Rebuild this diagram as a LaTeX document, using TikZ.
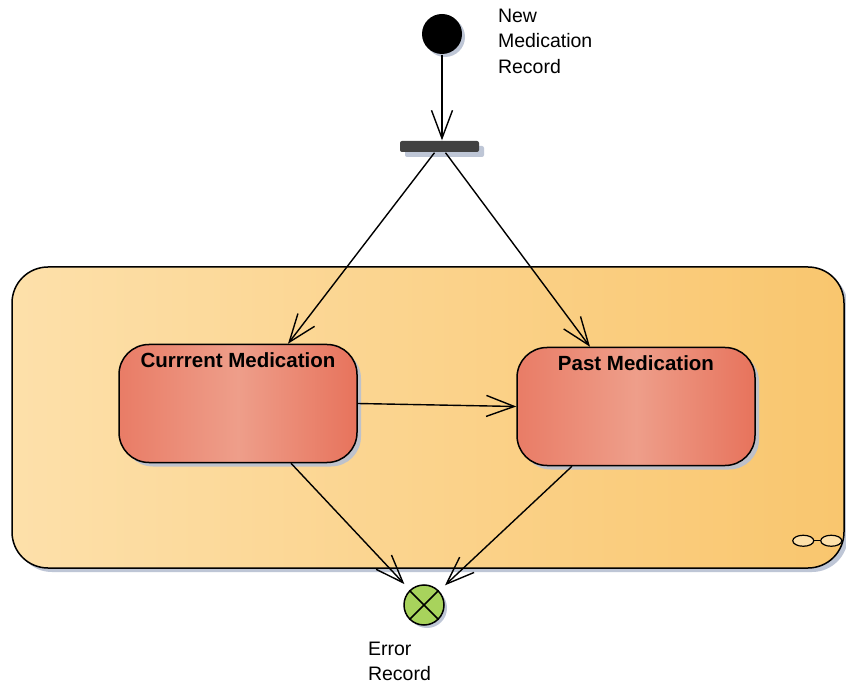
\documentclass[tikz,border=0pt]{standalone}
\usepackage{fontspec}
\setmainfont{Liberation Sans}
\usetikzlibrary{positioning,arrows.meta,shadows}

\definecolor{zoneleft}{HTML}{FDE0AA}
\definecolor{zoneright}{HTML}{F9C66E}
\definecolor{stateleft}{HTML}{E97C66}
\definecolor{statemid}{HTML}{EE9E8A}
\definecolor{stateright}{HTML}{E7735C}
\definecolor{finalgreen}{HTML}{A8D35C}
\definecolor{shadowblue}{HTML}{B8C0D2}
\definecolor{barfill}{HTML}{414141}

\begin{document}
\begin{tikzpicture}[
        x=1pt, y=-1pt,
        >={Straight Barb[length=28pt,width=21pt]},
        line width=1.4pt,
        tag/.style={align=left, anchor=north west, font=\fontsize{19.5}{25.5}\selectfont},
        statetag/.style={anchor=north, yshift=-5pt, font=\fontsize{20.5}{20.5}\selectfont\bfseries},
        shade/.style={drop shadow={shadow xshift=#1, shadow yshift=-#1, fill=shadowblue, opacity=0.9}},
        state/.style={draw, line width=1.5pt, rounded corners=30pt, minimum width=238pt, minimum height=118pt,
          left color=stateleft, right color=stateright, middle color=statemid, shade=4pt},
        zone/.style={draw, line width=1.5pt, rounded corners=36pt, minimum width=832pt, minimum height=301pt,
          left color=zoneleft, right color=zoneright, shade=4pt},
        point/.style={circle, inner sep=0pt, minimum size=40pt}
      ]
      \useasboundingbox[fill=white] (0,0) rectangle (846,684);

      \node (medzone) [zone] at (428,417.5) {};
      % link icon of the zone
      \draw[line width=1.2pt, fill=zoneleft] ([shift={(-41.5,-28)}]medzone.south east) ellipse (10.5 and 5.5)
        ([shift={(-13.5,-28)}]medzone.south east) ellipse (10.5 and 5.5);
      \draw[line width=1.2pt] ([shift={(-31,-28)}]medzone.south east) -- ([shift={(-24,-28)}]medzone.south east);

      \node (start) [point, fill=black, shade=3pt] at (442,34) {};
      \node (fork) [rounded corners=2pt, fill=barfill, minimum width=79pt, minimum height=11pt, inner sep=0pt, shade=5pt] at (439.5,146.5) {};
      \node (cur) [state, label={[statetag]north:Currrent Medication}] at (238,403.5) {};
      \node (past) [state, label={[statetag]north:Past Medication}] at (636,406.5) {};
      \node (err) [point, draw, line width=1.5pt, fill=finalgreen, shade=3pt] at (424,605) {};
      \draw[line width=1.5pt] (err.north west) -- (err.south east) (err.north east) -- (err.south west);

      \node (newtag) [tag] at (494,5) {New\\Medication\\Record};
      \node (errtag) [tag] at (364,638) {Error\\Record};

      \path[->] (start) edge (start |- fork.north);
      \path[->] ([xshift=-5pt]fork.south) edge ([xshift=50pt]cur.north);
      \path[->] ([xshift=6pt]fork.south) edge ([xshift=-46pt]past.north);
      \path[->] (cur.east) edge (past.west);
      \path[->] ([xshift=53pt]cur.south) edge[shorten >=8pt] (err);
      \path[->] ([xshift=-64pt]past.south) edge[shorten >=8pt] (err);

    \end{tikzpicture}
\end{document}
